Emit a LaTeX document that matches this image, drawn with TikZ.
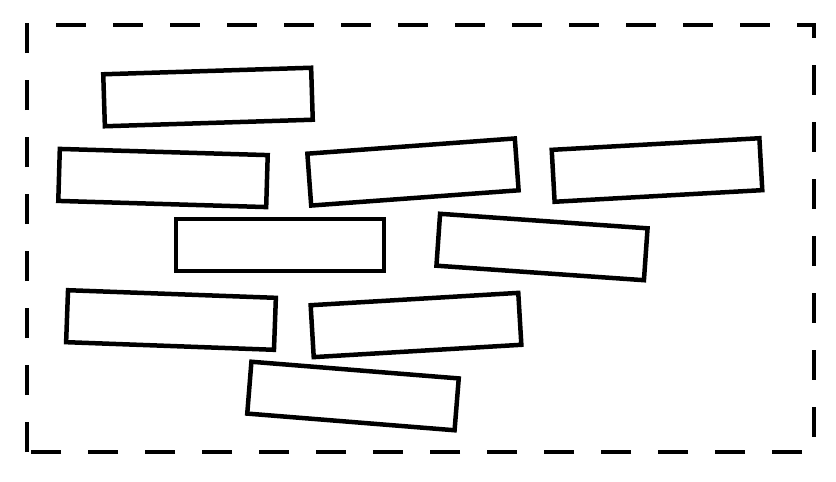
\documentclass[tikz,border=0pt]{standalone}
\usepackage{tikz}

\tikzset{
  brick/.style={draw=black, line width=4.5pt, rectangle, fill=white,
    minimum width=208pt, minimum height=52pt, inner sep=0pt},
  frame/.style={draw=black, line width=4pt, dash pattern=on 30pt off 27pt}
}

\begin{document}
\begin{tikzpicture}[x=1pt, y=-1pt]
  \useasboundingbox (0,0) rectangle (836,482);
  % dashed boundary
  \draw[frame] (27,452) -- (27,25) -- (814,25) -- (814,452) -- cycle;

  % bricks: name / centre x / centre y / angle
  \foreach \n/\x/\y/\a in {b1/208/97/1.8, b2/163/178/-1.7, b3/413/172/4.2,
                           b4/657/170/3.2, b5/280/245/0, b6/542/247/-4,
                           b7/171/320/-2.1, b8/416/325/3.4, b9/353/396/-4.6} {
    \node[brick, rotate=\a] (\n) at (\x,\y) {};
  }
\end{tikzpicture}
\end{document}
